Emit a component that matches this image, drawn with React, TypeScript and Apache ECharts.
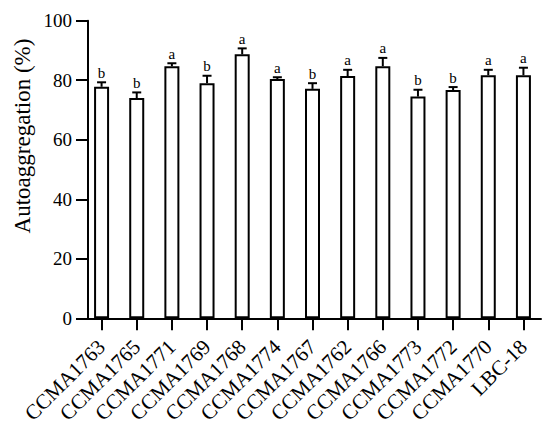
import React, { useEffect, useRef } from "react";
import * as echarts from "echarts";

const categories = [
  "CCMA1763", "CCMA1765", "CCMA1771", "CCMA1769", "CCMA1768", "CCMA1774", "CCMA1767",
  "CCMA1762", "CCMA1766", "CCMA1773", "CCMA1772", "CCMA1770", "LBC-18",
];
const means = [77.8, 74.0, 84.7, 79.0, 88.7, 80.4, 77.1, 81.4, 84.7, 74.5, 76.7, 81.7, 81.7];
const upperErr = [79.3, 75.9, 85.7, 81.5, 90.7, 81.0, 79.0, 83.5, 87.5, 76.8, 77.7, 83.5, 84.2];
const letters = ["b", "b", "a", "b", "a", "a", "b", "a", "a", "b", "b", "a", "a"];
const yTicks = [0, 20, 40, 60, 80, 100];
const yName = "Autoaggregation (%)";

const FONT = '"Liberation Serif", "Times New Roman", serif';

export default function App() {
  const ref = useRef<HTMLDivElement>(null);
  useEffect(() => {
    if (!ref.current) return;
    const chart = echarts.init(ref.current, null, { renderer: "svg" });
    const errData = means.map((m, i) => [i, m, upperErr[i]]);
    chart.setOption({
      animation: false,
      backgroundColor: "#fff",
      grid: { left: 76, right: 9, top: 12.7, bottom: 113.7, containLabel: false },
      xAxis: {
        type: "category",
        data: categories,
        axisLine: { show: true, lineStyle: { color: "#000", width: 2 } },
        axisTick: { show: true, alignWithLabel: true, length: 12, lineStyle: { color: "#000", width: 2 } },
        axisLabel: {
          rotate: 45,
          margin: 25,
          interval: 0,
          color: "#000",
          fontFamily: FONT,
          fontSize: 21,
        },
        splitLine: { show: false },
      },
      yAxis: {
        type: "value",
        min: yTicks[0],
        max: yTicks[yTicks.length - 1],
        interval: 20,
        offset: -4,
        axisLine: { show: true, lineStyle: { color: "#000", width: 2 } },
        axisTick: { show: true, length: 12, lineStyle: { color: "#000", width: 2 } },
        axisLabel: { color: "#000", fontFamily: FONT, fontSize: 19, margin: 16 },
        splitLine: { show: false },
      },
      graphic: [
        {
          type: "text",
          x: 14,
          y: 128,
          rotation: Math.PI / 2,
          style: {
            text: yName,
            fill: "#000",
            font: `23px ${FONT}`,
            textAlign: "center",
            textVerticalAlign: "middle",
          },
        },
      ],
      series: [
        {
          type: "bar",
          data: means,
          barWidth: 15,
          itemStyle: { color: "#fff", borderColor: "#000", borderWidth: 2 },
          z: 2,
        },
        {
          type: "custom",
          data: errData,
          encode: { x: 0, y: [1, 2] },
          z: 3,
          renderItem: (params: any, api: any) => {
            const x = api.value(0);
            const top = api.coord([x, api.value(1)]);
            const cap = api.coord([x, api.value(2)]);
            return {
              type: "group",
              children: [
                {
                  type: "line",
                  shape: { x1: top[0], y1: top[1], x2: cap[0], y2: cap[1] },
                  style: { stroke: "#000", lineWidth: 2 },
                },
                {
                  type: "line",
                  shape: { x1: cap[0] - 4.5, y1: cap[1], x2: cap[0] + 4.5, y2: cap[1] },
                  style: { stroke: "#000", lineWidth: 2 },
                },
                {
                  type: "text",
                  x: cap[0],
                  y: cap[1] - 2,
                  style: {
                    text: letters[params.dataIndex],
                    fill: "#000",
                    font: `15px ${FONT}`,
                    textAlign: "center",
                    textVerticalAlign: "bottom",
                  },
                },
              ],
            };
          },
        },
      ],
    });
    return () => chart.dispose();
  }, []);
  return <div ref={ref} style={{ width: 542, height: 424 }} />;
}
